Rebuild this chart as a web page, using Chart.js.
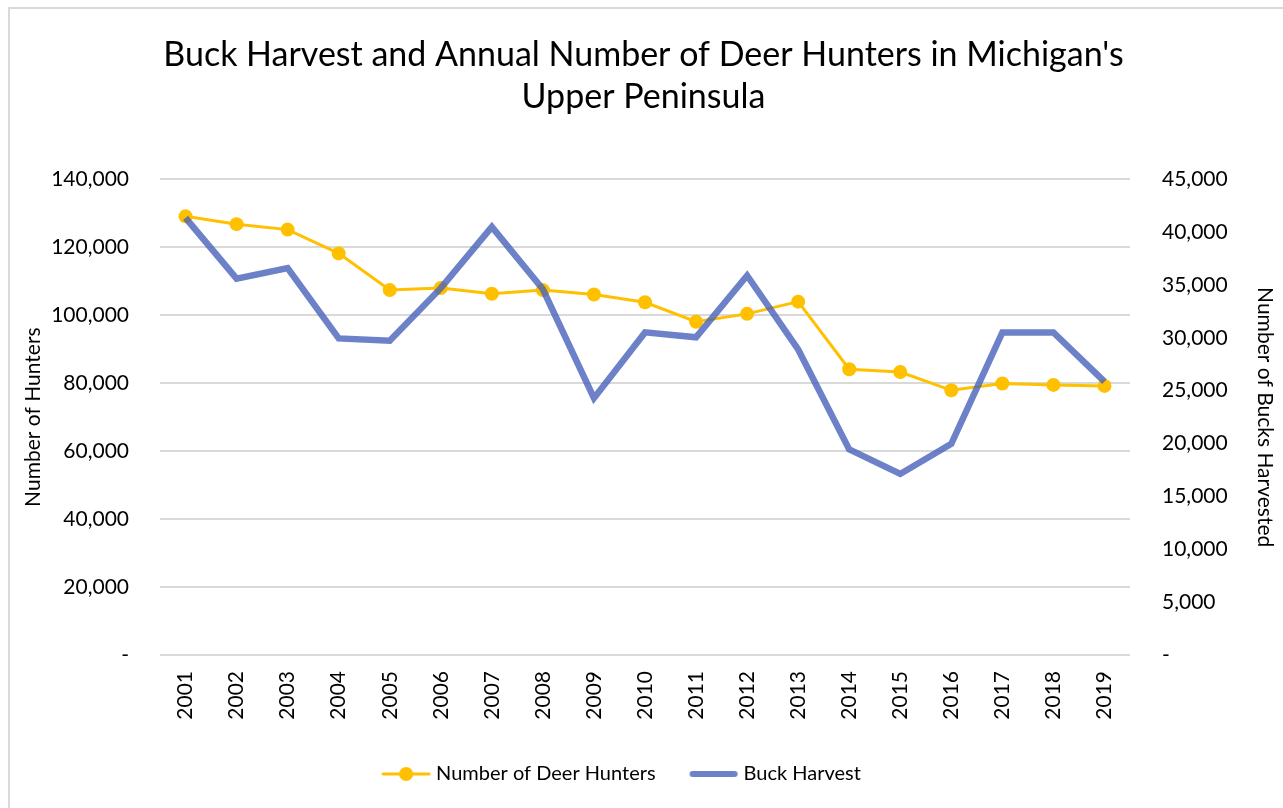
<!DOCTYPE html>
<html>
<head>
<meta charset="utf-8">
<script src="https://cdn.jsdelivr.net/npm/chart.js@4.4.1/dist/chart.umd.min.js"></script>
<style>
  html, body { margin: 0; padding: 0; background: #fff; }
  #wrap { width: 1283px; height: 808px; position: relative; }
</style>
</head>
<body>
<div id="wrap"><canvas id="deer-chart" width="1283" height="808"></canvas></div>
<script>
"use strict";

//////// DATA ////////
const years = ['2001', '2002', '2003', '2004', '2005', '2006', '2007', '2008', '2009', '2010',
  '2011', '2012', '2013', '2014', '2015', '2016', '2017', '2018', '2019'];

const deer_hunters = [129100, 126800, 125200, 118200, 107400, 108000, 106300, 107400, 106100, 103800,
  98100, 100400, 104000, 84100, 83300, 77900, 79900, 79500, 79200];

const buck_harvest = [41350, 35600, 36600, 29950, 29730, 34700, 40500, 34600, 24300, 30520,
  30050, 35900, 28900, 19450, 17130, 19980, 30520, 30520, 25870];

const left_ticks = [0, 20000, 40000, 60000, 80000, 100000, 120000, 140000];
const right_ticks = [0, 5000, 10000, 15000, 20000, 25000, 30000, 35000, 40000, 45000];

const FONT = 'Lato, "Open Sans", sans-serif';
const YELLOW = '#FFC000';
const BLUE = 'rgba(72, 98, 186, 0.8)';

// legend marker images (line with dot / plain thick line)
function make_marker(with_dot) {
  const c = document.createElement('canvas');
  c.width = 50; c.height = 16;
  const ctx = c.getContext('2d');
  ctx.lineCap = 'round';
  if (with_dot) {
    ctx.strokeStyle = YELLOW;
    ctx.lineWidth = 3;
    ctx.beginPath(); ctx.moveTo(2, 8); ctx.lineTo(48, 8); ctx.stroke();
    ctx.fillStyle = YELLOW;
    ctx.beginPath(); ctx.arc(25, 8, 7, 0, Math.PI * 2); ctx.fill();
  } else {
    ctx.strokeStyle = BLUE;
    ctx.lineWidth = 6;
    ctx.beginPath(); ctx.moveTo(4, 8); ctx.lineTo(46, 8); ctx.stroke();
  }
  return c;
}
const hunter_marker = make_marker(true);
const harvest_marker = make_marker(false);

function fmt(v) {
  if (v === 0) return '-';
  return v.toLocaleString('en-US');
}

// light frame from the original image + nudge the legend a little left
const frame_plugin = {
  id: 'frame',
  afterLayout(chart) {
    chart.legend.left -= 20;
    chart.legend.right -= 20;
  },
  beforeDraw(chart) {
    const ctx = chart.ctx;
    ctx.save();
    ctx.fillStyle = '#fff';
    ctx.fillRect(0, 0, chart.width, chart.height);
    ctx.strokeStyle = '#d9d9d9';
    ctx.lineWidth = 2;
    ctx.beginPath();
    ctx.moveTo(9, chart.height + 5);
    ctx.lineTo(9, 8);
    ctx.lineTo(chart.width + 5, 8);
    ctx.stroke();
    ctx.restore();
  }
};

const chart_ctx = document.getElementById('deer-chart').getContext('2d');
const deer_chart = new Chart(chart_ctx, {
  type: 'line',
  data: {
    labels: years,
    datasets: [
      {
        label: 'Number of Deer Hunters',
        data: deer_hunters,
        yAxisID: 'y',
        borderColor: YELLOW,
        backgroundColor: YELLOW,
        borderWidth: 3,
        pointRadius: 7,
        pointHoverRadius: 7,
        pointBorderWidth: 0,
        pointStyle: 'circle',
        tension: 0,
        order: 1,
      },
      {
        label: 'Buck Harvest',
        data: buck_harvest,
        yAxisID: 'yRight',
        borderColor: BLUE,
        backgroundColor: BLUE,
        borderWidth: 6.5,
        pointRadius: 0,
        tension: 0,
        order: 0,
      }
    ]
  },
  options: {
    responsive: false,
    animation: false,
    layout: { padding: { left: 10, right: 6, top: 34, bottom: 14 } },
    scales: {
      x: {
        offset: true,
        grid: { display: false },
        border: { display: false },
        ticks: {
          color: '#000',
          font: { family: FONT, size: 21 },
          minRotation: 90,
          maxRotation: 90,
          padding: 8,
        },
        afterFit(axis) { axis.height = 71; }
      },
      y: {
        position: 'left',
        min: 0,
        max: 140000,
        afterBuildTicks(axis) { axis.ticks = left_ticks.map(v => ({ value: v })); },
        grid: { color: '#d9d9d9', lineWidth: 2, drawTicks: false },
        border: { display: false },
        ticks: {
          color: '#000',
          font: { family: FONT, size: 21 },
          padding: 31,
          callback: v => fmt(v),
        },
        title: {
          display: true,
          text: 'Number of Hunters',
          color: '#000',
          font: { family: FONT, size: 21 },
          padding: { top: 11, bottom: 0 },
        },
        afterFit(axis) { axis.width = 150; }
      },
      yRight: {
        position: 'right',
        min: 0,
        max: 45000,
        afterBuildTicks(axis) { axis.ticks = right_ticks.map(v => ({ value: v })); },
        grid: { drawOnChartArea: false, drawTicks: false },
        border: { display: false },
        ticks: {
          color: '#000',
          font: { family: FONT, size: 21 },
          padding: 32,
          callback: v => fmt(v),
        },
        title: {
          display: true,
          text: 'Number of Bucks Harvested',
          color: '#000',
          font: { family: FONT, size: 21 },
          padding: { top: 0, bottom: 0 },
        },
        afterFit(axis) { axis.width = 147; }
      }
    },
    plugins: {
      title: {
        display: true,
        text: ["Buck Harvest and Annual Number of Deer Hunters in Michigan's", 'Upper Peninsula'],
        color: '#000',
        font: { family: FONT, size: 34, weight: 'normal', lineHeight: 1.24 },
        padding: { top: 0, bottom: 61 },
      },
      legend: {
        position: 'bottom',
        labels: {
          usePointStyle: true,
          pointStyleWidth: 40,
          color: '#000',
          font: { family: FONT, size: 20 },
          padding: 38,
          sort: (a, b) => a.datasetIndex - b.datasetIndex,
          generateLabels(chart) {
            return chart.data.datasets.map((ds, i) => ({
              text: ds.label,
              datasetIndex: i,
              pointStyle: i === 0 ? hunter_marker : harvest_marker,
              fillStyle: ds.backgroundColor,
              strokeStyle: ds.borderColor,
              lineWidth: 0,
              hidden: false,
              fontColor: '#000',
            }));
          }
        }
      },
      tooltip: { enabled: false }
    }
  },
  plugins: [frame_plugin]
});
</script>
</body>
</html>
